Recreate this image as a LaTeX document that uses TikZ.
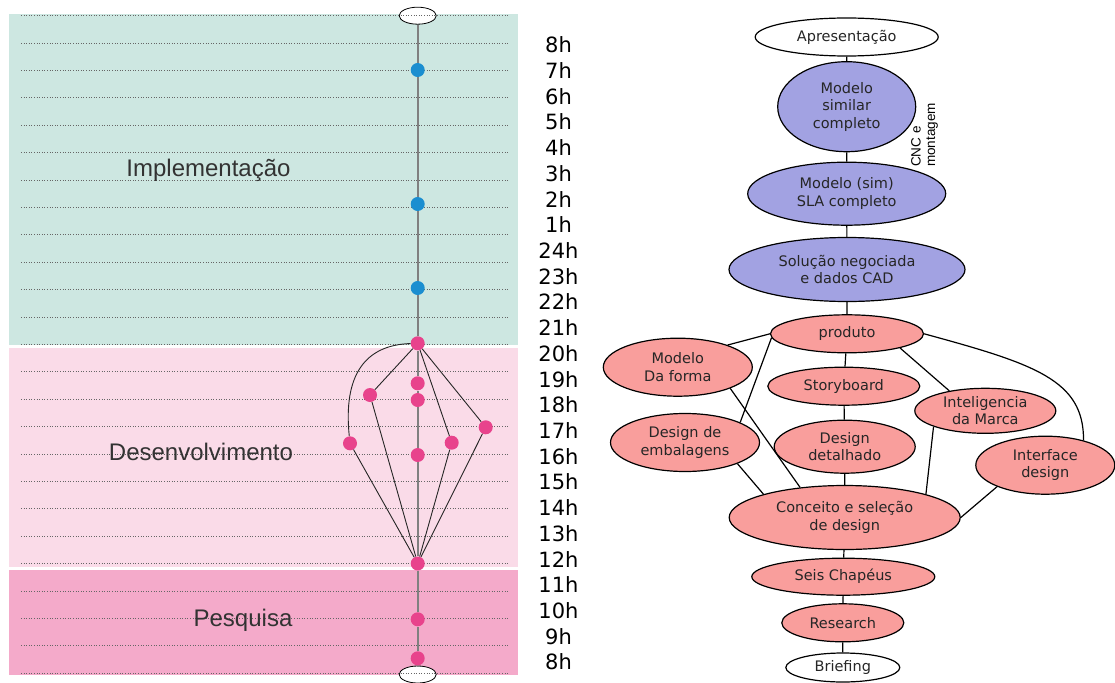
\documentclass[tikz,border=0pt]{standalone}
\usepackage{fontspec}
\usetikzlibrary{shapes.geometric}
\newfontfamily\verdana{DejaVu Sans}
\newfontfamily\arial{Liberation Sans}
\definecolor{corImplem}{RGB}{205,231,225}
\definecolor{corDesenv}{RGB}{250,219,232}
\definecolor{corPesq}{RGB}{244,170,202}
\definecolor{pontoazul}{RGB}{27,142,208}
\definecolor{pontorosa}{RGB}{232,67,140}
\definecolor{lilas}{RGB}{162,162,226}
\definecolor{salmao}{RGB}{249,158,156}
\tikzset{
  fase/.style={font=\arial\fontsize{24}{28}\selectfont, text=black!80, anchor=base},
  hora/.style={font=\verdana\fontsize{21}{24}\selectfont, anchor=base},
  grade/.style={black!60, line width=1pt, dash pattern=on 1pt off 1.6pt},
  tampa/.style={ellipse, draw, fill=white, line width=0.8pt, minimum width=37pt, minimum height=17pt, inner sep=0pt},
  ponto/.style={circle, inner sep=0pt, minimum size=14pt},
  azul/.style={ponto, fill=pontoazul},
  rosa/.style={ponto, fill=pontorosa},
  eixo/.style={black!50, line width=2pt},
  ligacao/.style={black!85, line width=0.9pt},
  etapa/.style={ellipse, draw, line width=1.2pt, inner sep=0pt, align=center, text=black!85,
    font=\verdana\fontsize{14.5}{17.5}\selectfont},
  ramo/.style={line width=1.2pt}
}

\begin{document}
\begin{tikzpicture}[x=1pt,y=-1pt]
\fill[white] (0,0) rectangle (1115,682);
\useasboundingbox (0,0) rectangle (1115,682);

% faixas do cronograma
\fill[corImplem] (8.5,14) rectangle (518,345);
\fill[corDesenv] (8.5,347.5) rectangle (518,567);
\fill[corPesq] (8.5,570) rectangle (518,675);

\node[tampa] (capT) at (417.7,15.7) {};
\node[tampa] (capB) at (417.7,674.5) {};

\foreach \k in {0,...,24}
  \draw[grade] ({21},{15.7+27.4*\k}) -- ({508},{15.7+27.4*\k});

\node[fase] (implem) at (208.5,176) {Implementação};
\node[fase] (desenv) at (201,460.7) {Desenvolvimento};
\node[fase] (pesq) at (243,626.7) {Pesquisa};

\node[azul] (a1) at (417.7,70) {};
\node[azul] (a2) at (417.7,204) {};
\node[azul] (a3) at (417.7,288) {};
\node[rosa] (r1) at (417.7,343.3) {};
\node[rosa] (r2) at (417.7,383.3) {};
\node[rosa] (r3) at (417.7,400) {};
\node[rosa] (r4) at (370,395) {};
\node[rosa] (r5) at (350,443.3) {};
\node[rosa] (r6) at (451.7,442.7) {};
\node[rosa] (r7) at (485.7,427.3) {};
\node[rosa] (r8) at (417.7,455) {};
\node[rosa] (r9) at (417.7,563.5) {};
\node[rosa] (r10) at (417.7,619.3) {};
\node[rosa] (r11) at (417.7,658.3) {};

\draw[eixo] (capT) -- (a1) -- (a2) -- (a3) -- (r1) -- (r2) -- (r3) -- (r8) -- (r9) -- (r10) -- (r11) -- (capB);
\draw[ligacao] (r1) -- (r4) -- (r9);
\draw[ligacao] (r1) .. controls (365,345) and (343,375) .. (r5);
\draw[ligacao] (r5) -- (r9);
\draw[ligacao] (r1) -- (r6) -- (r9);
\draw[ligacao] (r1) -- (r7) -- (r9);

\foreach \t [count=\i from 0] in {8h,7h,6h,5h,4h,3h,2h,1h,24h,23h,22h,21h,20h,19h,18h,17h,16h,15h,14h,13h,12h,11h,10h,9h,8h}
  \node[hora] (h\i) at ({558.5},{52.7+25.72*\i}) {\t};

% etapas do projeto
\node[etapa, fill=white, minimum width=183pt, minimum height=38pt] (apres) at (846.7,37) {Apresentação};
\node[etapa, fill=lilas, minimum width=138pt, minimum height=90pt] (msim) at (846.7,106.7) {Modelo\\similar\\completo};
\node[etapa, fill=lilas, minimum width=198pt, minimum height=63pt] (msla) at (846.7,193.7) {Modelo (sim)\\SLA completo};
\node[etapa, fill=lilas, minimum width=236pt, minimum height=64pt] (solucao) at (847,269.5) {Solução negociada\\e dados CAD};
\node[font=\arial\fontsize{13.5}{14.5}\selectfont, rotate=90, align=left, inner sep=0pt] (cnc) at (924.5,135) {CNC e\\montagem};

\node[etapa, fill=salmao, minimum width=153pt, minimum height=38pt] (produto) at (847,333.8) {produto};
\node[etapa, fill=salmao, minimum width=149pt, minimum height=58pt] (forma) at (677.8,367.2) {Modelo\\Da forma};
\node[etapa, fill=salmao, minimum width=152pt, minimum height=38pt] (story) at (843.8,386.2) {Storyboard};
\node[etapa, fill=salmao, minimum width=141pt, minimum height=45pt] (marca) at (985.3,410.8) {Inteligencia\\da Marca};
\node[etapa, fill=salmao, minimum width=149pt, minimum height=58pt] (embal) at (685,442.5) {Design de\\embalagens};
\node[etapa, fill=salmao, minimum width=141pt, minimum height=53pt] (detalhe) at (844.7,446.7) {Design\\detalhado};
\node[etapa, fill=salmao, minimum width=139pt, minimum height=58pt] (iface) at (1045.3,465.2) {Interface\\design};
\node[etapa, fill=salmao, minimum width=231pt, minimum height=64pt] (conceito) at (844.7,517.5) {Conceito e seleção\\de design};
\node[etapa, fill=salmao, minimum width=183pt, minimum height=37pt] (seis) at (843.3,576.7) {Seis Chapéus};
\node[etapa, fill=salmao, minimum width=122pt, minimum height=38pt] (research) at (842.8,622.8) {Research};
\node[etapa, fill=white, minimum width=114pt, minimum height=29pt] (briefing) at (842.8,667.5) {Briefing};

\draw[ramo] (apres) -- (msim) -- (msla) -- (solucao) -- (produto);
\draw[ramo] (produto.west) -- (forma.24);
\draw[ramo] (produto.183) -- (embal.20);
\draw[ramo] (produto) -- (story);
\draw[ramo] (produto.-15) -- (marca.151);
\draw[ramo] (produto.east) .. controls (1035,364) and (1084,380) .. (iface.33);
\draw[ramo] (forma.-22) -- (conceito.146);
\draw[ramo] (embal.-22) -- (conceito.164);
\draw[ramo] (story) -- (detalhe) -- (conceito);
\draw[ramo] (marca.197) -- (conceito.16);
\draw[ramo] (iface.204) -- (conceito.east);
\draw[ramo] (conceito) -- (seis) -- (research) -- (briefing);
\end{tikzpicture}
\end{document}
